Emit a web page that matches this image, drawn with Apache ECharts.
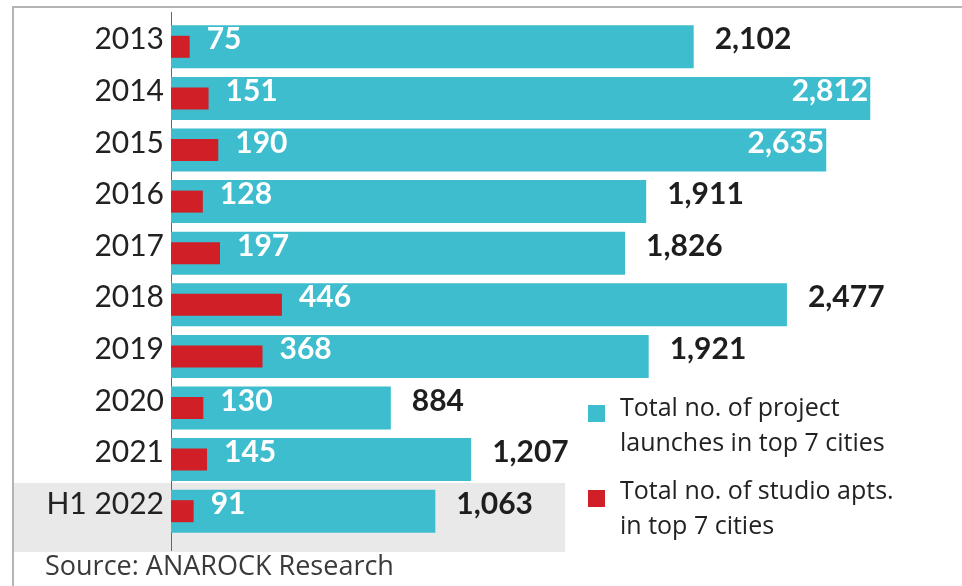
<!DOCTYPE html>
<html lang="en">
<head>
    <meta charset="UTF-8">
    <script type="text/javascript" src="https://cdn.jsdelivr.net/npm/echarts@6/dist/echarts.min.js"></script>
    <title>Project launches and studio apartments</title>
    <style>
        html, body { margin: 0; padding: 0; background: #fff; }
        #main { width: 962px; height: 586px; }
    </style>
</head>
<body>
<div id="main"></div>

<script type="text/javascript">

    // data
    var years = ['2013', '2014', '2015', '2016', '2017', '2018', '2019', '2020', '2021', 'H1 2022']
    var launches = [2102, 2812, 2635, 1911, 1826, 2477, 1921, 884, 1207, 1063]
    var studios = [75, 151, 190, 128, 197, 446, 368, 130, 145, 91]

    // the two longest bars carry their label inside
    var insideYears = ['2014', '2015']

    var teal = '#3dbdcd'
    var red = '#d01f27'
    var font = 'Lato'
    var textFont = '"Open Sans"'

    var fmt = function (p) {
        return p.value.toLocaleString('en-US')
    }

    var launchData = []
    for (var i = 0; i < years.length; i++) {
        var item = {value: launches[i]}
        if (insideYears.indexOf(years[i]) >= 0) {
            item.label = {position: 'insideRight', color: '#fff', distance: 2}
        }
        launchData.push(item)
    }

    var myChart = echarts.init(document.getElementById('main'));

    var option = {
        backgroundColor: '#fff',
        animation: false,
        grid: {
            left: 171,
            right: 45,
            top: 21,
            bottom: 49
        },
        xAxis: {
            type: 'value',
            min: 0,
            max: 3000,
            show: false
        },
        // second category axis so both bar sets are centred on the row
        yAxis: [
            {
                type: 'category',
                inverse: true,
                data: years,
                axisLine: {show: false},
                axisTick: {show: false},
                axisLabel: {
                    color: '#222',
                    fontFamily: font,
                    fontSize: 30,
                    margin: 7,
                    verticalAlign: 'bottom',
                    lineHeight: 14
                }
            },
            {
                type: 'category',
                inverse: true,
                data: years,
                show: false
            }
        ],
        series: [
            {
                name: 'Total no. of project launches in top 7 cities',
                type: 'bar',
                yAxisIndex: 0,
                data: launchData,
                barWidth: 43,
                itemStyle: {color: teal},
                label: {
                    show: true,
                    position: 'right',
                    distance: 21,
                    offset: [0, -7],
                    color: '#1e1e1e',
                    fontFamily: font,
                    fontWeight: 'bold',
                    fontSize: 30,
                    formatter: fmt
                },
                z: 2
            },
            {
                name: 'Total no. of studio apts. in top 7 cities',
                type: 'bar',
                yAxisIndex: 1,
                data: studios,
                barWidth: 22,
                itemStyle: {color: red},
                label: {
                    show: true,
                    position: 'right',
                    distance: 17,
                    offset: [0, -7],
                    color: '#fff',
                    fontFamily: font,
                    fontWeight: 'bold',
                    fontSize: 30,
                    formatter: fmt
                },
                z: 3
            }
        ],
        graphic: [
            // grey band behind the H1 2022 row
            {
                type: 'rect',
                z: -10,
                shape: {x: 13, y: 483, width: 552, height: 69},
                style: {fill: '#e9e9e9'}
            },
            // frame
            {
                type: 'polyline',
                z: -5,
                shape: {points: [[13, 586], [13, 7], [962, 7]]},
                style: {stroke: '#b4b4b4', lineWidth: 2, fill: null}
            },
            // category axis line, running a little past the plot
            {
                type: 'line',
                z: 1,
                shape: {x1: 171.5, y1: 12, x2: 171.5, y2: 551},
                style: {stroke: '#666', lineWidth: 1}
            },
            // legend
            {
                type: 'rect',
                shape: {x: 588, y: 405, width: 17, height: 17},
                style: {fill: teal}
            },
            {
                type: 'text',
                left: 620,
                top: 391,
                style: {
                    text: 'Total no. of project\nlaunches in top 7 cities',
                    font: '25px ' + textFont,
                    lineHeight: 35,
                    fill: '#222'
                }
            },
            {
                type: 'rect',
                shape: {x: 588, y: 490, width: 17, height: 17},
                style: {fill: red}
            },
            {
                type: 'text',
                left: 620,
                top: 474,
                style: {
                    text: 'Total no. of studio apts.\nin top 7 cities',
                    font: '25px ' + textFont,
                    lineHeight: 35,
                    fill: '#222'
                }
            },
            // source line
            {
                type: 'text',
                left: 45,
                top: 554,
                style: {
                    text: 'Source: ANAROCK Research',
                    font: '27px ' + textFont,
                    fill: '#3a3a3a'
                }
            }
        ]
    };
    myChart.setOption(option)
</script>
</body>
</html>
